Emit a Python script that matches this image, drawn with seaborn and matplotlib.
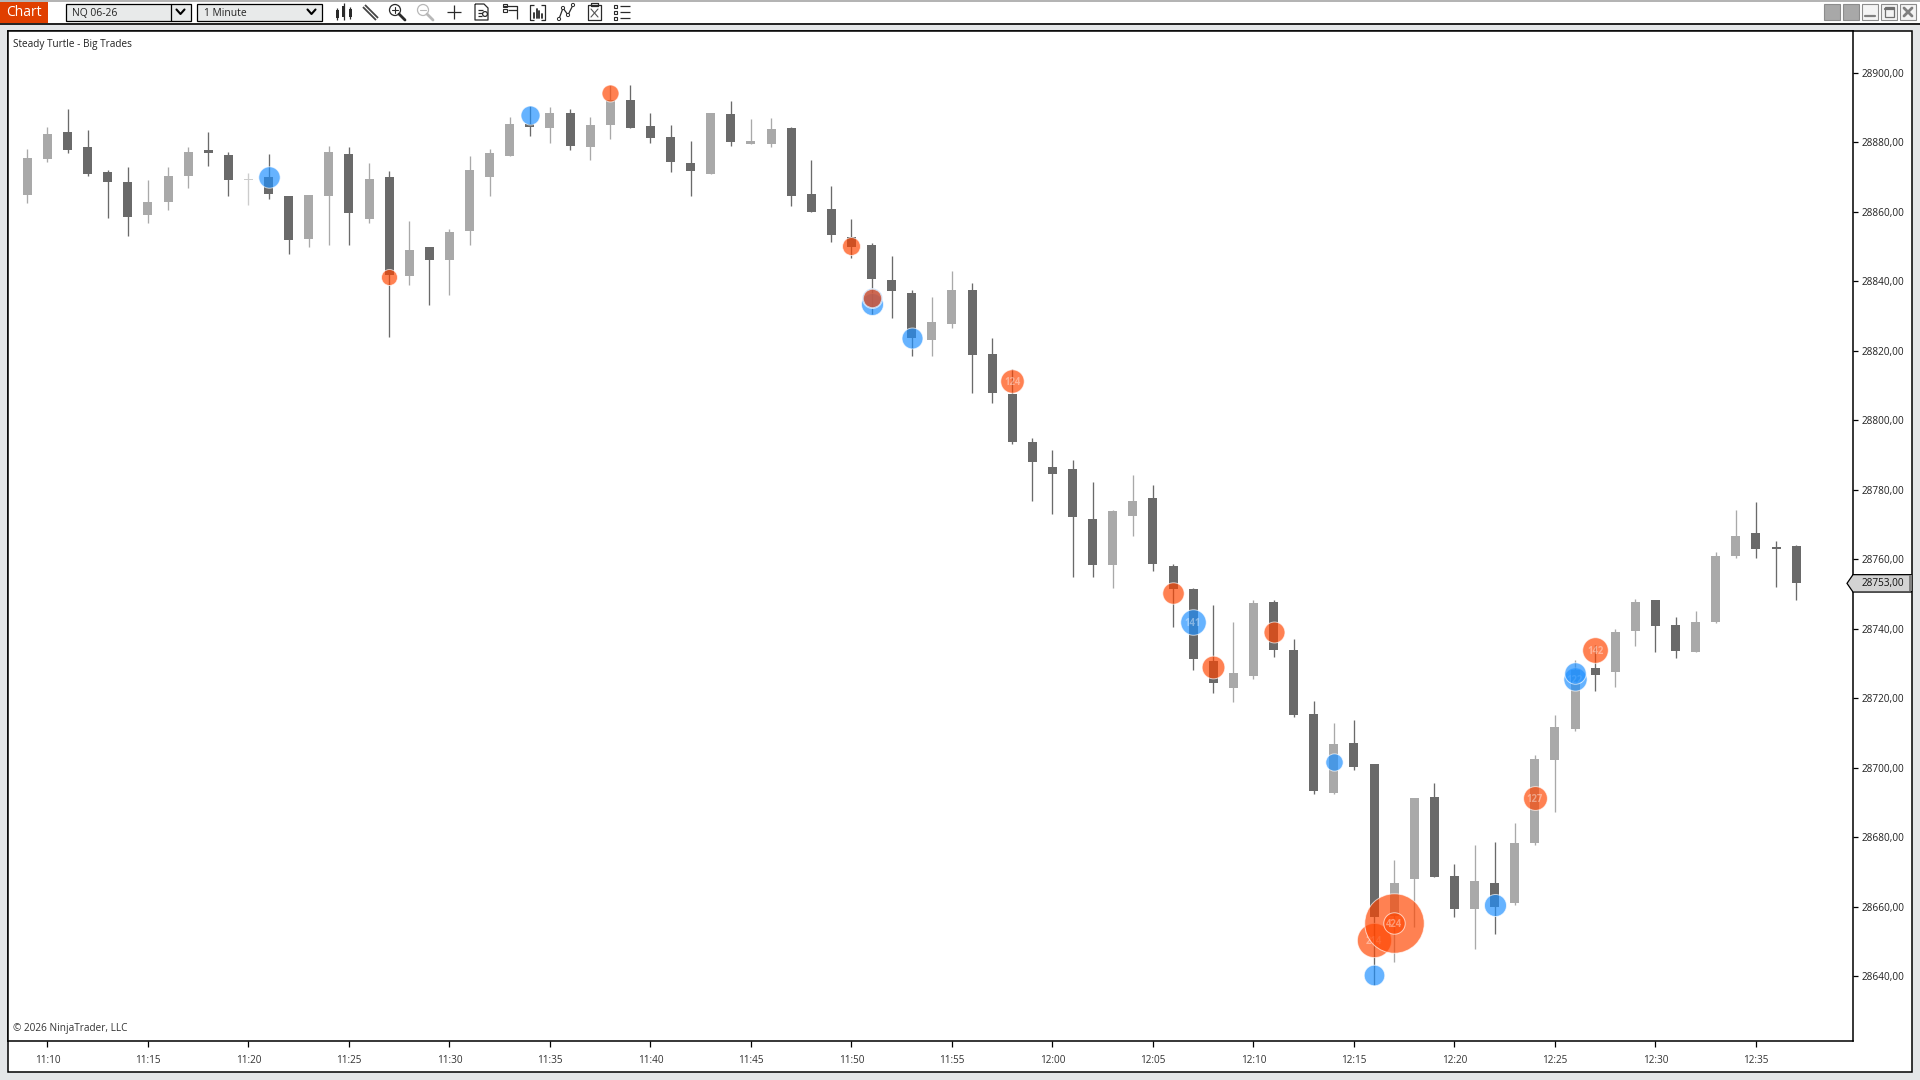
import matplotlib
matplotlib.use('Agg')
import matplotlib.pyplot as plt
from matplotlib.patches import Rectangle, Polygon, Circle
import numpy as np
import pandas as pd
import seaborn as sns

# one candle per minute, first bar is 11:09
opens = [28864.75, 28875, 28883, 28878.5, 28871.5, 28868.5, 28859, 28862.75, 28870.25, 28877.75,
         28876.25, 28869.5, 28870, 28864.5, 28852, 28864.5, 28876.5, 28857.75, 28870, 28841.5,
         28849.75, 28846, 28854.5, 28870, 28876, 28885.25, 28884, 28888.25, 28878.5, 28885,
         28892, 28884.5, 28881.5, 28874, 28870.75, 28888, 28879.5, 28879.5, 28884, 28865,
         28860.75, 28852.75, 28850.5, 28840.25, 28836.5, 28823, 28827.5, 28837.5, 28819, 28807.5,
         28793.75, 28786.5, 28786, 28771.5, 28758.25, 28772.5, 28777.5, 28758, 28751.5, 28730.75,
         28723, 28726.25, 28747.5, 28733.75, 28715.5, 28692.75, 28707, 28701, 28657.25, 28668,
         28691.5, 28668.75, 28659.25, 28666.75, 28661, 28678.25, 28702.25, 28711, 28728.5, 28727.5,
         28739.25, 28748.25, 28741, 28733.25, 28741.75, 28760.75, 28767.5, 28763.5, 28763.75]
highs = [28878, 28884.25, 28889.5, 28883.5, 28872, 28872.75, 28869, 28872.75, 28878.5, 28883,
         28877, 28871, 28876.5, 28864.5, 28864.75, 28879, 28878.5, 28874, 28871.75, 28857.25,
         28849.75, 28855, 28876, 28878, 28887.25, 28890.5, 28890, 28889.5, 28887.25, 28896.5,
         28896.5, 28888.5, 28885, 28880.25, 28888.25, 28891.75, 28886.5, 28887, 28884.25, 28874.75,
         28867.25, 28857.75, 28851, 28847.25, 28837.5, 28835.5, 28843, 28839.5, 28823.5, 28814.75,
         28794.75, 28791.5, 28788.5, 28782.25, 28774, 28784.25, 28781.25, 28758.5, 28751.75, 28746.75,
         28741.75, 28748.25, 28748.25, 28737, 28719.25, 28712.75, 28713.75, 28701, 28673.5, 28691.25,
         28695.5, 28672.25, 28677.75, 28678.5, 28684, 28703.5, 28715, 28731, 28735.25, 28739.75,
         28748.5, 28748.25, 28743.25, 28745, 28762, 28774, 28776.5, 28765.25, 28764]
lows = [28862.5, 28874.25, 28876.75, 28870.25, 28858, 28853, 28856.75, 28860.5, 28866.75, 28873,
        28864.5, 28862, 28863.5, 28847.75, 28849.75, 28850.5, 28850.25, 28856.75, 28824, 28839,
        28833, 28836, 28850.25, 28864.5, 28876, 28881.75, 28879.75, 28877.75, 28874.75, 28881,
        28884, 28879.75, 28871.5, 28864.5, 28870.75, 28878.75, 28879.5, 28878.5, 28861.5, 28860,
        28851.25, 28846.5, 28830.5, 28829.5, 28818.5, 28818.5, 28826.5, 28807.75, 28805, 28793,
        28776.75, 28773, 28754.75, 28754.75, 28751.75, 28766.5, 28756.5, 28740.5, 28728, 28721.5,
        28719, 28725.5, 28731.75, 28714.5, 28692.5, 28692.5, 28699.25, 28637.5, 28644, 28654,
        28668.5, 28657, 28647.75, 28652, 28660.5, 28677.75, 28687.25, 28710.5, 28722, 28723.25,
        28735, 28733.25, 28731.5, 28733.25, 28741.5, 28760.25, 28760.25, 28752, 28748.25]
closes = [28875.5, 28882.25, 28877.75, 28870.75, 28868.5, 28858.5, 28862.75, 28870.25, 28877, 28876.75,
          28869, 28869.1, 28865, 28851.75, 28864.75, 28877, 28859.5, 28869.25, 28841.75, 28849,
          28846, 28854, 28872, 28876.75, 28885.25, 28884.25, 28888.5, 28878.75, 28885, 28892,
          28884, 28881.25, 28874.25, 28871.75, 28888.25, 28880, 28880.25, 28883.75, 28864.5, 28860,
          28853.25, 28849.75, 28840.5, 28837, 28823.5, 28828.25, 28837.5, 28818.75, 28807.75, 28793.75,
          28788, 28784.5, 28772, 28758.25, 28773.75, 28776.75, 28758.5, 28751.5, 28731.25, 28724.25,
          28727.25, 28747.25, 28733.75, 28715.25, 28693.25, 28706.75, 28700.25, 28657, 28666.75, 28691.25,
          28668.5, 28659.25, 28667.25, 28660, 28678.25, 28702.5, 28711.75, 28728, 28726.5, 28739,
          28747.5, 28740.75, 28733.5, 28741.75, 28760.75, 28766.5, 28763, 28763, 28753]

# big trades, in drawing order
trade_bar = [12, 18, 25, 29, 41, 42, 42, 42, 44, 49, 57, 58, 59, 62, 65, 67, 67, 68, 68, 73, 75, 77, 77, 78]
trade_price = [28870, 28841.25, 28887.75, 28894, 28850, 28833.5, 28835, 28835, 28823.75, 28811.25,
               28750.25, 28741.75, 28729, 28739, 28701.5, 28640.25, 28650.5, 28655.25, 28655.25,
               28660.5, 28691.25, 28725.5, 28727.25, 28733.75]
trade_size = [107, 62, 87, 70, 78, 112, 95, 82, 103, 124, 107, 141, 118, 103, 73, 100, 214, 424, 107, 112, 127, 122, 107, 142]
trade_side = ['buy', 'sell', 'buy', 'sell', 'sell', 'buy', 'buy', 'sell', 'buy', 'sell', 'sell', 'buy', 'sell',
              'sell', 'buy', 'buy', 'sell', 'sell', 'sell', 'buy', 'sell', 'buy', 'buy', 'sell']
trade_text = ['', '', '', '', '', '', '', '', '', '124', '', '141', '', '', '', '', '214', '', '424', '', '127', '122', '', '142']

price_ticks = list(range(28640, 28901, 20))
time_labels = ['11:10', '11:15', '11:20', '11:25', '11:30', '11:35', '11:40', '11:45', '11:50',
               '11:55', '12:00', '12:05', '12:10', '12:15', '12:20', '12:25', '12:30', '12:35']
last_price = 28753

W, H = 1920, 1080
DARK = '#6A6A6A'
LIGHT = '#A9A9A9'
FAINT = '#CCCCCC'

sns.set_theme(style='white')
plt.rcParams['font.family'] = ['Open Sans', 'DejaVu Sans']

fig = plt.figure(figsize=(W / 100, H / 100), dpi=100, facecolor='#E4E6E8')


def px_axes(rect, z):
    """Axes with pixel coordinates, y going down."""
    a = fig.add_axes(rect, zorder=z)
    a.set_xlim(0, W)
    a.set_ylim(H, 0)
    a.axis('off')
    return a


ui = px_axes([0, 0, 1, 1], 0)
top = px_axes([0, 0, 1, 1], 2)

# window chrome
ui.add_patch(Rectangle((0, 0), W, 23, fc='white', ec='none'))
ui.add_patch(Rectangle((0, 0), W, 1.5, fc='#B4B4B4', ec='none'))
ui.plot([0, W], [23.5, 23.5], color='black', lw=1.2)
ui.add_patch(Rectangle((7.5, 30.5), 1904.5, 1041.5, fc='white', ec='black', lw=1.1))

ui.add_patch(Rectangle((0, 1.5), 48, 21, fc='#E03F00', ec='none'))
ui.text(24, 13, 'Chart', color='white', fontsize=10, ha='center', va='center')

for x0, x1, label in [(66, 190.5, 'NQ 06-26'), (197, 321.5, '1 Minute')]:
    ui.add_patch(Rectangle((x0, 3.5), x1 - x0, 17, fc='#E8EAEA', ec='black', lw=0.9))
    ui.text(x0 + 6.5, 13.5, label, color='#222222', fontsize=7.4, va='center')
    ui.plot([x1 - 14, x1 - 10, x1 - 6], [9.5, 14, 9.5], color='black', lw=1.5)
ui.plot([170.5, 170.5], [3.5, 20.5], color='black', lw=0.9)

# toolbar icons
ic = dict(color='#2A2A2A', lw=0.9, solid_capstyle='butt')
for x, y0, y1, t0, t1 in [(337, 8, 20, 10, 18), (343.5, 3, 20, 6, 17), (350, 7, 19, 9, 17)]:
    ui.plot([x, x], [y0, y1], **ic)
    ui.add_patch(Rectangle((x - 1.5, t0), 3, t1 - t0, fc='#2A2A2A', ec='none'))
ui.plot([364, 377], [6, 19], color='#444444', lw=3.4, solid_capstyle='butt')
ui.plot([364, 377], [6, 19], color='white', lw=0.8)
for cx, col, bar in [(395, '#2A2A2A', True), (423, '#B8B8B8', False)]:
    ui.add_patch(Circle((cx, 10), 5.5, fc='none', ec=col, lw=0.9))
    ui.plot([cx + 4, cx + 10], [14, 20], color=col, lw=2)
    ui.plot([cx - 3, cx + 3], [10, 10], color=col, lw=0.8)
    if bar:
        ui.plot([cx, cx], [7, 13], color=col, lw=0.8)
ui.plot([446.5, 461], [12, 12], **ic)
ui.plot([453.7, 453.7], [5, 19], **ic)
ui.plot([475, 484, 488, 488, 475, 475], [4, 4, 8, 20, 20, 4], **ic)
ui.plot([478, 483], [10, 10], **ic)
ui.plot([478, 482], [13, 13], **ic)
ui.plot([478, 482], [16, 16], **ic)
ui.add_patch(Circle((485, 14), 2.4, fc='white', ec='#2A2A2A', lw=0.9))
ui.plot([503, 517, 517], [6, 6, 19], **ic)
ui.plot([508, 517], [10, 10], **ic)
ui.add_patch(Rectangle((503, 4), 3.5, 3, fc='white', ec='#2A2A2A', lw=0.8))
ui.add_patch(Rectangle((503, 8.5), 3.5, 3, fc='white', ec='#2A2A2A', lw=0.8))
ui.plot([534, 530, 530, 534], [5, 5, 20, 20], **ic)
ui.plot([541, 545, 545, 541], [5, 5, 20, 20], **ic)
for x, y0 in [(533.5, 13), (536.5, 9), (539, 11), (541.5, 14)]:
    ui.plot([x, x], [y0, 18], color='#2A2A2A', lw=1.3)
ui.plot([559, 563, 568, 573], [19, 8, 15, 5], **ic)
for x, y in [(559, 19), (563, 8), (568, 15), (573, 5)]:
    ui.add_patch(Circle((x, y), 1.6, fc='white', ec='#2A2A2A', lw=0.7, zorder=3))
ui.plot([588, 601, 601, 588, 588], [5, 5, 20, 20, 5], **ic)
ui.plot([591, 598, 598, 591, 591], [3, 3, 6, 6, 3], **ic)
ui.plot([591, 598], [9, 17], color='#555555', lw=0.8)
ui.plot([598, 591], [9, 17], color='#555555', lw=0.8)
for y in [6, 12, 18]:
    ui.add_patch(Rectangle((614, y - 1.5), 3, 3, fc='white', ec='#2A2A2A', lw=0.8))
    ui.plot([620, 630], [y, y], **ic)

for x0, solid in [(1824, True), (1843, True), (1862, False), (1881, False), (1900, False)]:
    ui.add_patch(Rectangle((x0, 4), 16, 16, fc='#A8A8A8' if solid else '#F4F4F4', ec='#8C8C8C', lw=0.8))
ui.plot([1865, 1875], [16, 16], color='#808080', lw=1.6)
ui.add_patch(Rectangle((1884.5, 7), 9, 10, fc='none', ec='#707070', lw=0.9))
ui.plot([1884.5, 1893.5], [8.5, 8.5], color='#707070', lw=1.6)
ui.plot([1904, 1912], [8, 16], color='#808080', lw=2)
ui.plot([1912, 1904], [8, 16], color='#808080', lw=2)

# price panel
ax = fig.add_axes([7.5 / W, 1 - 1041 / H, (1853 - 7.5) / W, (1041 - 30.5) / H], zorder=1)

bars = np.arange(len(opens))
o = np.array(opens)
c = np.array(closes)
colors = [FAINT if abs(a - b) < 0.5 else (LIGHT if b > a else DARK) for a, b in zip(o, c)]

ax.vlines(bars, lows, highs, colors=colors, linewidth=0.95, zorder=2)
ax.bar(bars, np.abs(c - o), bottom=np.minimum(o, c), width=0.448, color=colors, linewidth=0, zorder=3)

trades = pd.DataFrame({'bar': trade_bar, 'price': trade_price, 'size': trade_size, 'side': trade_side})
radius = 4.3 + 0.06 * trades['size'].to_numpy(dtype=float)

# one at a time, later bubbles cover the labels of earlier ones
for i, t in enumerate(trade_text):
    z = 4 + i * 0.01
    sns.scatterplot(data=trades.iloc[[i]], x='bar', y='price', hue='side',
                    palette={'buy': '#1E90FF', 'sell': '#FF4500'},
                    s=(2 * radius[i] * 0.72) ** 2, alpha=0.68, edgecolor='#FFFFFF', linewidth=0.7,
                    legend=False, zorder=z, ax=ax)
    if t:
        ax.text(trade_bar[i], trade_price[i], t, color='white', alpha=0.4, fontsize=6.9, fontweight='bold',
                ha='center', va='center_baseline', zorder=z + 0.005)

ax.set_xlim(-0.99, 90.83)
ax.set_ylim(28621.3, 28912.1)
ax.set_xlabel('')
ax.set_ylabel('')
ax.set_yticks(price_ticks)
ax.set_yticklabels([f'{p},00' for p in price_ticks])
ax.set_xticks(bars[1::5][:len(time_labels)])
ax.set_xticklabels(time_labels)
ax.yaxis.tick_right()
ax.tick_params(axis='y', which='major', length=3.6, width=0.9, pad=2.9, labelsize=7.2,
               labelcolor='#222222', color='black', right=True)
ax.tick_params(axis='x', which='major', length=4.3, width=0.9, pad=6, labelsize=7.2,
               labelcolor='#333333', color='black', bottom=True)
for s in ax.spines.values():
    s.set_visible(True)
    s.set_color('black')
    s.set_linewidth(1.1)

top.text(13, 45, 'Steady Turtle - Big Trades', color='#222222', fontsize=7.2, va='center')
top.text(13, 1029, '© 2026 NinjaTrader, LLC', color='#333333', fontsize=7.2, va='center')

# last price tag
tag_y = 30.5 + (28912.1 - last_price) / (28912.1 - 28621.3) * (1041 - 30.5)
top.add_patch(Polygon([(1847, tag_y), (1853, tag_y - 8.7), (1911.5, tag_y - 8.7),
                       (1911.5, tag_y + 8.7), (1853, tag_y + 8.7)], closed=True,
                      fc='#D3D3D3', ec='black', lw=0.9))
top.add_patch(Rectangle((1909, tag_y - 8), 2.5, 16, fc='#808080', ec='none'))
top.text(1862, tag_y + 0.5, f'{last_price},00', color='#111111', fontsize=7.2, va='center')

fig.savefig('out.png', dpi=100)
